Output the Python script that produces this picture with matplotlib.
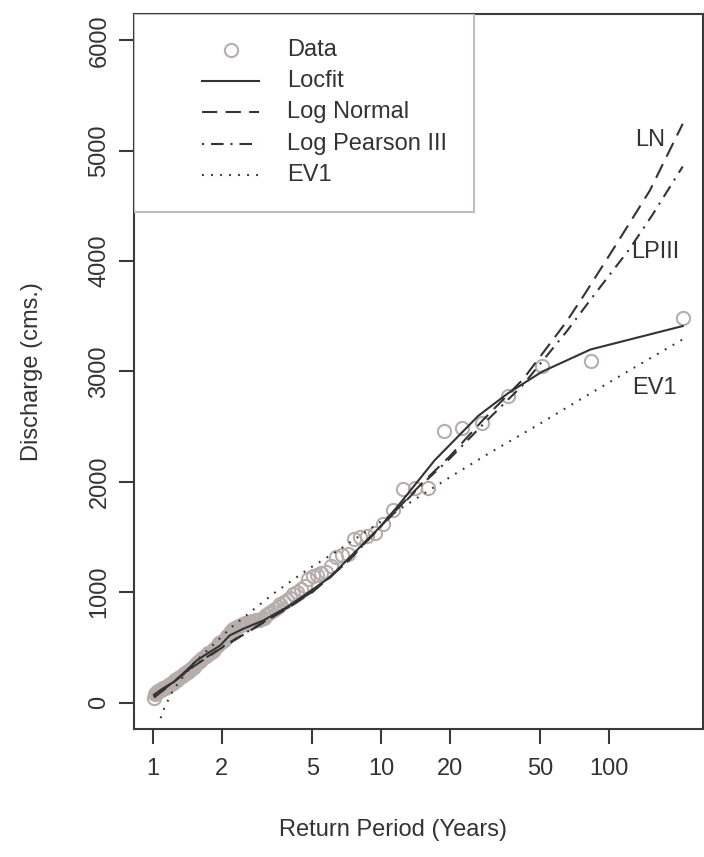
import matplotlib.pyplot as plt
from matplotlib.lines import Line2D
from matplotlib.patches import Rectangle

plt.rcParams['font.family'] = ['Liberation Sans', 'DejaVu Sans']
plt.rcParams['font.size'] = 17
plt.rcParams['lines.scale_dashes'] = False

# annual peak discharge (cms) against return period (years), largest first
return_period = [210.5, 83.1, 50.7, 35.9, 27.7, 22.6, 18.8, 16.1, 14.1, 12.45, 11.25, 10.2,
                 9.39, 8.70, 8.10, 7.58, 7.13, 6.72, 6.36, 6.03, 5.74, 5.47, 5.23, 5.01,
                 4.80, 4.62, 4.44, 4.28, 4.13, 3.99, 3.86, 3.74, 3.62, 3.52, 3.42, 3.32,
                 3.23, 3.14, 3.06, 2.98, 2.91, 2.84, 2.77, 2.71, 2.65, 2.59, 2.53, 2.48,
                 2.43, 2.38, 2.33, 2.29, 2.25, 2.20, 2.16, 2.12, 2.09, 2.05, 2.02, 1.98,
                 1.95, 1.92, 1.89, 1.86, 1.83, 1.80, 1.77, 1.75, 1.72, 1.70, 1.67, 1.65,
                 1.63, 1.61, 1.58, 1.56, 1.54, 1.52, 1.51, 1.49, 1.47, 1.45, 1.43, 1.42,
                 1.40, 1.38, 1.37, 1.35, 1.34, 1.32, 1.31, 1.29, 1.28, 1.27, 1.25, 1.24,
                 1.23, 1.22, 1.20, 1.19, 1.18, 1.17, 1.16, 1.15, 1.14, 1.13, 1.12, 1.11,
                 1.10, 1.09, 1.08, 1.07, 1.06, 1.05, 1.04, 1.03, 1.02, 1.01]
discharge = [3482, 3094, 3052, 2780, 2529, 2489, 2462, 1943, 1943, 1932, 1748, 1621,
             1540, 1510, 1500, 1480, 1350, 1335, 1320, 1240, 1180, 1170, 1160, 1150,
             1120, 1060, 1030, 1000, 980, 950, 930, 910, 890, 870, 850, 830,
             810, 790, 770, 760, 750, 745, 740, 735, 730, 725, 718, 710,
             700, 695, 685, 675, 665, 650, 620, 600, 585, 570, 560, 550,
             540, 525, 505, 485, 470, 460, 450, 445, 435, 425, 410, 400,
             390, 380, 370, 360, 350, 335, 325, 315, 305, 298, 290, 280,
             272, 265, 258, 250, 242, 235, 228, 222, 215, 208, 200, 193,
             185, 178, 172, 165, 160, 155, 150, 145, 140, 136, 132, 128,
             124, 120, 116, 112, 108, 104, 98, 90, 78, 45]

# fitted frequency curves
locfit_T = [1.01, 1.1, 1.23, 1.4, 1.555, 1.75, 1.97, 2.17, 2.49, 3.05, 3.86, 4.72,
            5.98, 7.82, 9.9, 12.1, 17.2, 26.7, 35.9, 50.7, 83.1, 210.5]
locfit_Q = [70, 125, 185, 290, 381, 450, 517, 608, 669, 744, 864, 986,
            1137, 1379, 1591, 1803, 2196, 2598, 2800, 2997, 3200, 3412]

lognorm_T = [1.01, 1.1, 1.25, 1.5, 2, 3, 4, 5, 7, 10, 15, 20, 28, 42, 65, 77,
             98, 112, 151, 210.5]
lognorm_Q = [45, 105, 195, 325, 495, 715, 870, 1000, 1260, 1600, 1980, 2230, 2560,
             2930, 3450, 3680, 4020, 4210, 4640, 5245]

lp3_T = [1.01, 1.1, 1.25, 1.5, 2, 3, 4, 5, 7, 10, 15, 20, 28, 42, 65, 85, 123,
         155, 210.5]
lp3_Q = [50, 110, 200, 330, 500, 720, 875, 1005, 1260, 1595, 1970, 2210, 2520, 2880,
         3360, 3680, 4110, 4420, 4858]

ev1_T = [1.08, 1.12, 1.175, 1.23, 1.5, 2.21, 3.37, 4.8, 6.28, 10, 14.3, 20.7, 30.1,
         48.2, 74.6, 132.6, 210.5]
ev1_Q = [-142, -52, 39, 118, 351, 683, 986, 1210, 1360, 1640, 1850, 2060, 2265,
         2510, 2745, 3050, 3291]

x_ticks = [1, 2, 5, 10, 20, 50, 100]
y_ticks = [0, 1000, 2000, 3000, 4000, 5000, 6000]

ink = '#333333'
pt_col = '#b7adad'
dash_ln = (0, (11, 6))
dash_lp3 = (0, (1.5, 5, 9, 5))
dash_ev1 = (0, (1.3, 5.2))

fig = plt.figure(figsize=(7.04, 8.57), dpi=100)
ax = fig.add_axes([134 / 704, 1 - 729 / 857, 569 / 704, 715 / 857])

ax.plot(return_period, discharge, 'o', ms=9.5, mfc='none', mec=pt_col, mew=1.5, zorder=2)
ax.plot(locfit_T, locfit_Q, color=ink, lw=1.5, zorder=3)
ax.plot(lognorm_T, lognorm_Q, color=ink, lw=1.5, linestyle=dash_ln, zorder=3)
ax.plot(lp3_T, lp3_Q, color=ink, lw=1.5, linestyle=dash_lp3, zorder=3)
ax.plot(ev1_T, ev1_Q, color=ink, lw=1.5, linestyle=dash_ev1, zorder=3)

# curve names at the right end
ax.text(151, 5098, 'LN', ha='center', va='center', color=ink)
ax.text(159, 4086, 'LPIII', ha='center', va='center', color=ink)
ax.text(157.5, 2850, 'EV1', ha='center', va='center', color=ink)

ax.set_xscale('log')
ax.set_xlim(0.8254, 258.3)
ax.set_ylim(-240, 6240)
ax.set_xticks(x_ticks)
ax.set_xticklabels([str(t) for t in x_ticks])
ax.minorticks_off()
ax.set_yticks(y_ticks)
ax.set_yticklabels([str(t) for t in y_ticks], rotation=90, va='center')
ax.tick_params(direction='out', length=11, width=1.5, colors='#3a3a3a',
               labelcolor=ink, labelsize=17)
ax.tick_params(axis='x', pad=10)
ax.tick_params(axis='y', pad=6)
for sp in ax.spines.values():
    sp.set_color('#3a3a3a')
    sp.set_linewidth(1.5)

fig.text(32 / 704, 1 - 372 / 857, 'Discharge (cms.)', rotation=90,
         ha='center', va='center', color=ink, fontsize=17)
fig.text(393 / 704, 1 - 830 / 857, 'Return Period (Years)',
         ha='center', va='center', color=ink, fontsize=17)

# legend box drawn in axes fractions
tr = ax.transAxes
ax.add_patch(Rectangle((0, 0.723), 0.5975, 0.277, transform=tr, fill=True,
                       facecolor='white', edgecolor='#c4bcbc', lw=1.5, zorder=4))
rows = [0.9497, 0.9063, 0.8629, 0.8182, 0.7748]
labels = ['Data', 'Locfit', 'Log Normal', 'Log Pearson III', 'EV1']
styles = [None, '-', dash_ln, dash_lp3, dash_ev1]
for yy, lab, ls in zip(rows, labels, styles):
    if ls is None:
        ax.add_line(Line2D([0.1705], [yy], transform=tr, marker='o', ms=9.5,
                           mfc='none', mec=pt_col, mew=1.5, ls='none', zorder=5))
    else:
        ax.add_line(Line2D([0.1195, 0.2197], [yy, yy], transform=tr, color=ink,
                           lw=1.5, linestyle=ls, zorder=5))
    ax.text(0.2689, yy, lab, transform=tr, ha='left', va='center', color=ink,
            zorder=5)

fig.savefig('out.png', dpi=100)
